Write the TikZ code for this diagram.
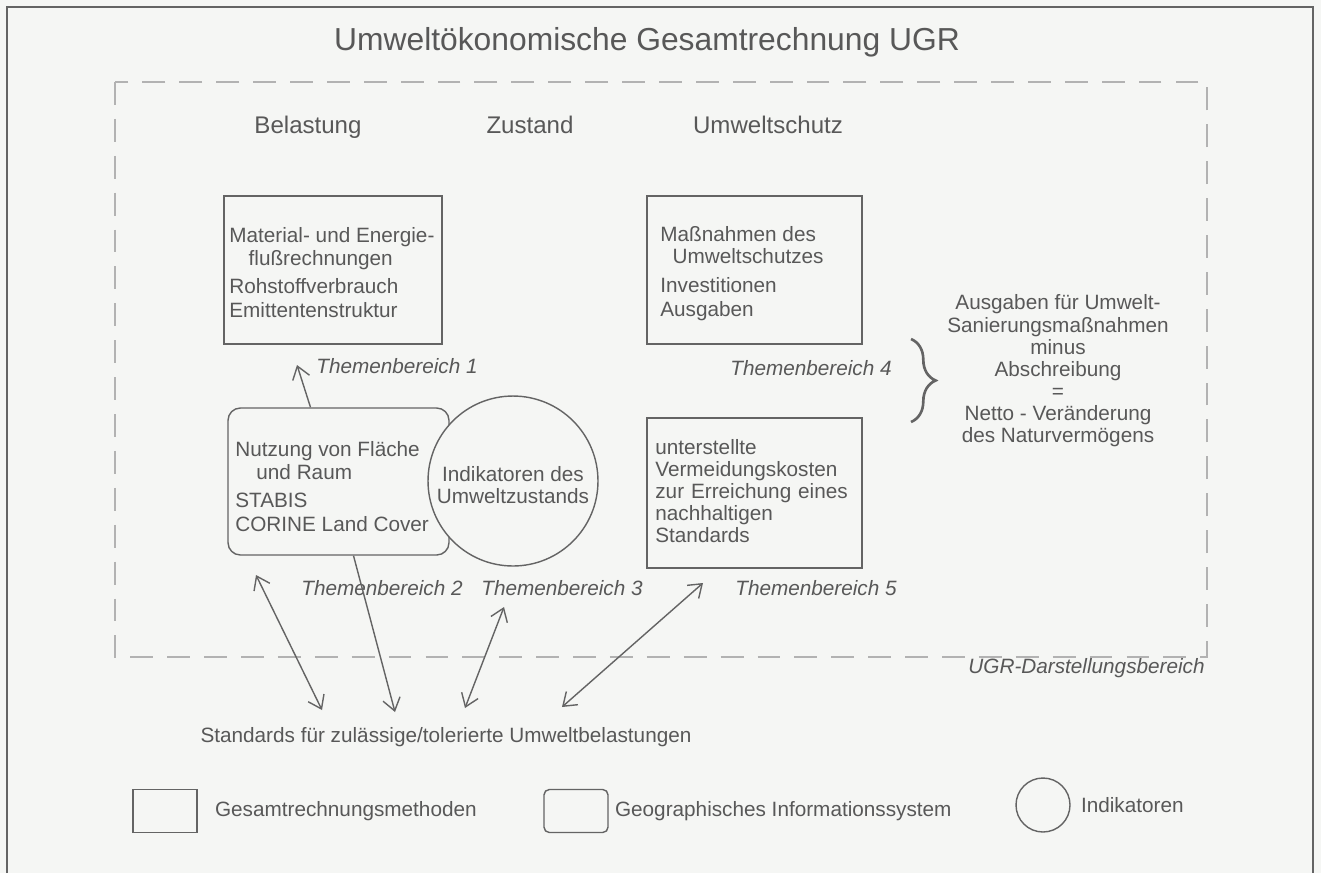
\documentclass[tikz,border=0pt]{standalone}
\usepackage{fontspec}
\setmainfont{Liberation Sans}
\usepackage{tikz}
\usetikzlibrary{arrows.meta,positioning,calc,decorations.pathreplacing}
\definecolor{UGRInk}{RGB}{88,88,88}
\definecolor{UGRLine}{RGB}{100,100,100}
\definecolor{UGRDash}{RGB}{178,178,178}
\definecolor{UGRPaper}{RGB}{245,246,244}

\begin{document}
\begin{tikzpicture}[x=0.02cm,y=-0.02cm,
  font=\fontsize{11.8}{12.6}\selectfont, text=UGRInk,
  frm/.style={draw=UGRLine,line width=0.8pt,inner sep=0pt},
  gis/.style={frm,rounded corners=7pt},
  ind/.style={frm,circle,fill=UGRPaper},
  txt/.style={align=left,inner sep=0pt,anchor=west},
  theme/.style={inner sep=0pt,font=\fontsize{11.8}{12.6}\selectfont\itshape},
  head/.style={inner sep=0pt,anchor=base,font=\fontsize{13.7}{16}\selectfont},
  arr/.style={draw=UGRLine,line width=0.8pt,-{Straight Barb[length=7pt,width=10pt]}},
  darr/.style={arr,{Straight Barb[length=7pt,width=10pt]}-{Straight Barb[length=7pt,width=10pt]}}]
\useasboundingbox (0,0) rectangle (1321,873);
\fill[UGRPaper] (0,0) rectangle (1321,873);
\draw[UGRLine,line width=1pt] (7,873) -- (7,7) -- (1313,7) -- (1313,873);
% title and UGR area
\node[inner sep=0pt,font=\fontsize{18.1}{20}\selectfont] (title) at (647,42) {Umweltökonomische Gesamtrechnung UGR};
\draw[UGRDash,line width=0.7pt,dash pattern=on 13pt off 8pt] (115,82) rectangle (1207,657);
\node[theme,anchor=east] (ugr) at (1205,668) {UGR-Darstellungsbereich};
\foreach \h/\x in {Belastung/308,Zustand/530,Umweltschutz/768}{
  \node[head] (\h) at (\x,133) {\h};
}
% Belastung
\node[frm,minimum width=4.36cm,minimum height=2.96cm] (matbox) at (333,270) {};
\node[txt] (mattxt) at (229,273) {Material- und Energie-\\\hspace*{11pt}flußrechnungen\\[3.4pt]Rohstoffverbrauch\\[1.5pt]Emittentenstruktur};
\node[gis,minimum width=4.42cm,minimum height=2.94cm] (gisbox) at (338.5,481.5) {};
\node[txt] (gistxt) at (235,487) {Nutzung von Fläche\\\hspace*{12pt}und Raum\\[3.4pt]STABIS\\[1.5pt]CORINE Land Cover};
% Zustand
\node[ind,minimum size=3.4cm] (indcirc) at (513,481) {};
\node[align=center,inner sep=0pt] (indtxt) at (513,485) {Indikatoren des\\Umweltzustands};
% Umweltschutz
\node[frm,minimum width=4.3cm,minimum height=2.96cm] (massbox) at (754.5,270) {};
\node[txt] (masstxt) at (660,274) {Maßnahmen des\\\hspace*{7pt}Umweltschutzes\\[3.4pt]Investitionen\\[1.5pt]Ausgaben};
\node[frm,minimum width=4.3cm,minimum height=3cm] (vermbox) at (754.5,493) {};
\node[txt,text width=4.1cm] (vermtxt) at (655,491) {unterstellte\\Vermeidungskosten\\zur Erreichung eines\\nachhaltigen\\Standards};
\foreach \n/\x/\y in {1/397/366,2/382/588,3/562/588,4/811/368,5/816/588}{
  \node[theme] (th\n) at (\x,\y) {Themenbereich \n};
}
\draw[UGRLine,line width=1.5pt,decorate,decoration={brace,amplitude=14pt}] (911,339) -- (911,422);
\node[align=center,inner sep=0pt] (netto) at (1058,371) {Ausgaben für Umwelt-\\Sanierungsmaßnahmen\\minus\\Abschreibung\\=\\Netto - Veränderung\\des Naturvermögens};
% standards
\node[inner sep=0pt] (std) at (446,737) {Standards für zulässige/tolerierte Umweltbelastungen};
\coordinate (t1tip) at (297,365);
\coordinate (gistip) at (256,575);
\coordinate (th3tip) at (504,607);
\coordinate (vermtip) at (703,583);
\coordinate (s1) at (322,710);
\coordinate (s2) at (395,712);
\coordinate (s3) at (465,708);
\coordinate (s4) at (562,707);
\draw[arr] ($(gisbox.north)+(-28,0)$) -- (t1tip);
\draw[arr] ($(gisbox.south)+(15,0)$) -- (s2);
\draw[darr] (gistip) -- (s1);
\draw[darr] (th3tip) -- (s3);
\draw[darr] (vermtip) -- (s4);
% legend
\node[frm,minimum width=1.28cm,minimum height=0.86cm] (lgGR) at (165,811) {};
\node[txt,right=0.34cm of lgGR] (lgGRtxt) {Gesamtrechnungsmethoden};
\node[frm,rounded corners=3pt,minimum width=1.28cm,minimum height=0.86cm] (lgGIS) at (576,811) {};
\node[txt,right=0.12cm of lgGIS] (lgGIStxt) {Geographisches Informationssystem};
\node[ind,minimum size=1.08cm] (lgInd) at (1043,805) {};
\node[txt,right=0.2cm of lgInd] (lgIndtxt) {Indikatoren};
\end{tikzpicture}
\end{document}
